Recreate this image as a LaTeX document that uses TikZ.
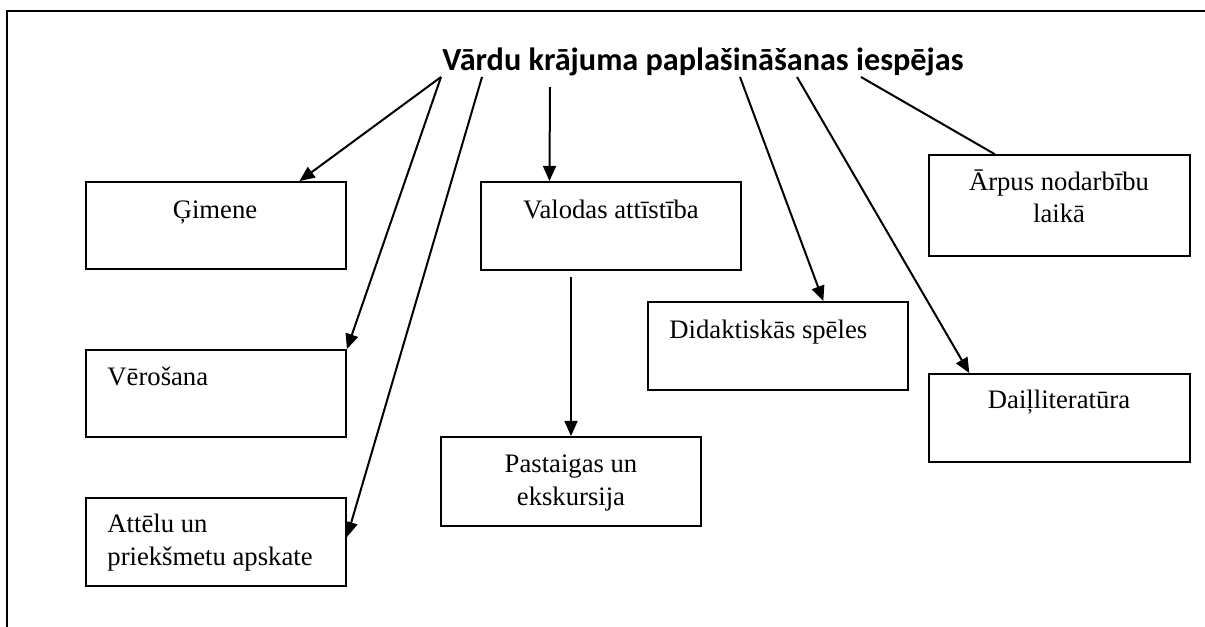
\documentclass[tikz,border=0pt]{standalone}
\usepackage{fontspec}
\setmainfont{Liberation Serif}
\newfontfamily\titlefont{Carlito}
\usetikzlibrary{arrows.meta,calc}
\newcommand\pxu[1]{#1*0.45pt}
\begin{document}
\begin{tikzpicture}[x=0.45pt, y=-0.45pt,
  frame/.style={line width=0.9pt},
  box/.style={draw, line width=0.85pt, inner sep=0pt, minimum width=\pxu{260}},
  lbl/.style={inner sep=0pt, font=\fontsize{12}{14}\selectfont},
  arr/.style={line width=0.9pt, -{Triangle[length=6.8pt,width=5.8pt]}},
  ln/.style={line width=0.9pt}]
\useasboundingbox (0,0) rectangle (1205,626);
\draw[frame] (1210,11) -- (7,11) -- (7,630);

\node[anchor=base, inner sep=0pt, font=\titlefont\bfseries\fontsize{14.5}{16}\selectfont] (title) at (703,70) {Vārdu krājuma paplašināšanas iespējas};

% boxes
\node[box, minimum height=\pxu{87}] (gim) at (216,225.5) {};
\node[box, minimum height=\pxu{87}] (ver) at (216,393.5) {};
\node[box, minimum height=\pxu{88}] (ate) at (216,542) {};
\node[box, minimum height=\pxu{88}] (val) at (611,226) {};
\node[box, minimum height=\pxu{89}] (pas) at (571,481.5) {};
\node[box, minimum height=\pxu{88}] (did) at (778,346) {};
\node[box, minimum height=\pxu{88}, minimum width=\pxu{261}] (dai) at (1059.5,418) {};
\node[box, minimum height=\pxu{101}, minimum width=\pxu{261}] (arp) at (1059.5,205.5) {};

% labels
\node[lbl, anchor=base] (gimt) at (215,218) {Ģimene};
\node[lbl, anchor=base west] (vert) at (107,385) {Vērošana};
\node[lbl, anchor=base west] (atet1) at (107,532) {Attēlu un};
\node[lbl, anchor=base west] (atet2) at (107,565) {priekšmetu apskate};
\node[lbl, anchor=base] (valt) at (611,218) {Valodas attīstība};
\node[lbl, anchor=base] (past1) at (571,472) {Pastaigas un};
\node[lbl, anchor=base] (past2) at (571,505) {ekskursija};
\node[lbl, anchor=base west] (didt) at (669,338) {Didaktiskās spēles};
\node[lbl, anchor=base] (dait) at (1059,408) {Daiļliteratūra};
\node[lbl, anchor=base] (arpt1) at (1059,190) {Ārpus nodarbību};
\node[lbl, anchor=base] (arpt2) at (1059,222) {laikā};

% connector start points
\coordinate (s1) at (441,77);
\coordinate (s3) at (482,77);
\coordinate (s4) at (550,87);
\coordinate (s5) at (740,77);
\coordinate (s6) at (797,77);
\coordinate (s7) at (861,77);
\coordinate (s8) at (571,277);

\draw[arr] (s1) -- ($(gim.north west)!0.819!(gim.north east)$);
\draw[arr] (s1) -- (ver.north east);
\draw[arr] (s3) -- ([yshift=2.25pt]ate.east);
\draw[arr] (s4) -- ($(val.north west)!0.265!(val.north east)$);
\draw[arr] (s8) -- (pas.north);
\draw[arr] (s5) -- ($(did.north west)!0.673!(did.north east)$);
\draw[arr] (s6) -- ($(dai.north west)!0.157!(dai.north east)$);
\draw[ln] (s7) -- ($(arp.north west)!0.253!(arp.north east)$);
\end{tikzpicture}
\end{document}
